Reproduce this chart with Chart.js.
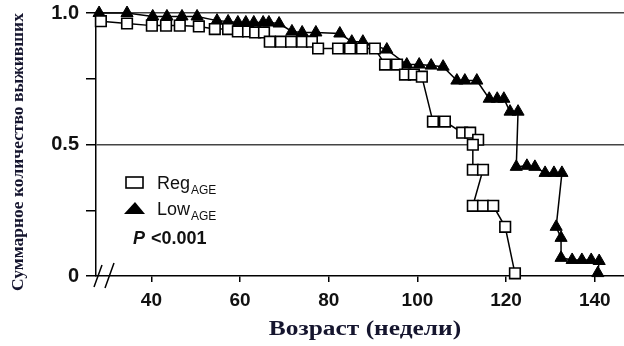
<!DOCTYPE html>
<html>
<head>
<meta charset="utf-8">
<script src="https://cdn.jsdelivr.net/npm/chart.js@4.4.1/dist/chart.umd.min.js"></script>
<style>
  html, body { margin: 0; padding: 0; background: #fff; overflow: hidden; }
  #survChart { display: block; }
</style>
</head>
<body>
<canvas id="survChart" width="624" height="346"></canvas>
<script>
// Survival data (weeks, cumulative survival)
const regWeeks = [28.6, 34.5, 40.1, 43.3, 46.4, 50.7, 54.3, 57.3, 59.5, 61.8, 63.4, 65.4,
  66.7, 69.2, 71.5, 74.0, 76.2, 77.6, 82.1, 84.8, 87.5, 90.4, 92.7, 95.4, 97.2, 99.2,
  101.0, 103.5, 106.2, 110.1, 111.9, 113.7, 112.5, 112.5, 114.8, 112.5, 114.8, 117.1,
  119.8, 122.0];
const regSurv = [0.969, 0.960, 0.952, 0.952, 0.952, 0.949, 0.939, 0.939, 0.930, 0.930, 0.926, 0.926,
  0.891, 0.891, 0.891, 0.891, 0.891, 0.865, 0.865, 0.865, 0.865, 0.865, 0.804, 0.804, 0.766, 0.766,
  0.758, 0.587, 0.587, 0.545, 0.545, 0.518, 0.499, 0.404, 0.404, 0.267, 0.267, 0.267,
  0.187, 0.01];

const lowWeeks = [28.2, 34.5, 40.3, 43.5, 46.9, 50.3, 54.8, 57.3, 59.5, 61.3, 63.1, 65.2, 66.5,
  68.8, 71.7, 74.0, 77.1, 82.5, 85.2, 87.7, 93.1, 97.6, 100.4, 103.1, 105.8, 108.9, 110.7,
  113.4, 116.2, 118.0, 119.5, 120.9, 122.7, 122.3, 124.7, 126.5, 128.8, 130.8, 132.6, 131.3,
  132.4, 132.4, 134.9, 137.1, 139.2, 141.0, 140.7];
const lowSurv = [1.0, 1.0, 0.987, 0.987, 0.987, 0.987, 0.971, 0.968, 0.964, 0.964, 0.964, 0.964, 0.964,
  0.960, 0.930, 0.926, 0.926, 0.922, 0.891, 0.891, 0.861, 0.804, 0.804, 0.800, 0.796, 0.743, 0.743,
  0.743, 0.674, 0.674, 0.674, 0.625, 0.625, 0.415, 0.419, 0.415, 0.392, 0.392, 0.392, 0.187,
  0.145, 0.069, 0.061, 0.061, 0.061, 0.057, 0.011];

const seriesNames = ['Reg', 'Low'];
const seriesSub = 'AGE';
const pValueText = '<0.001';

const xTicks = [40, 60, 80, 100, 120, 140];
const yTicks = [0, 0.25, 0.5, 0.75, 1.0];
const yTickLabels = { 0: '0', 0.5: '0.5', 1: '1.0' };

const xTitle = 'Возраст (недели)';
const yTitle = 'Суммарное количество выживших';

const titleColor = '#15152e';
const sansFont = "'Liberation Sans', Arial, sans-serif";
const serifFont = "'Liberation Serif', 'Times New Roman', serif";

function toPoints(xs, ys) {
  return xs.map((x, i) => ({ x: x, y: ys[i] }));
}

// Legend with subscripts, p-value, axis titles and the axis break
const legendPlugin = {
  id: 'ageLegend',
  afterDraw(chart) {
    const ctx = chart.ctx;
    const area = chart.chartArea;
    const left = area.left;
    ctx.save();
    ctx.lineWidth = 1.6;
    ctx.strokeStyle = '#000';

    // square
    ctx.fillStyle = '#fff';
    ctx.fillRect(left + 30, 177, 17, 11);
    ctx.strokeRect(left + 30, 177, 17, 11);
    // triangle
    ctx.fillStyle = '#000';
    ctx.beginPath();
    ctx.moveTo(left + 39, 202);
    ctx.lineTo(left + 49, 214);
    ctx.lineTo(left + 28, 214);
    ctx.closePath();
    ctx.fill();

    ctx.fillStyle = '#111';
    ctx.textBaseline = 'alphabetic';
    seriesNames.forEach((name, i) => {
      const y = 189 + i * 26;
      ctx.font = '18px ' + sansFont;
      ctx.fillText(name, left + 61, y);
      const w = ctx.measureText(name).width;
      ctx.font = '12px ' + sansFont;
      ctx.fillText(seriesSub, left + 61 + w + 1, y + 5);
    });

    ctx.font = 'italic bold 18px ' + sansFont;
    ctx.fillText('P', left + 37, 244);
    const pw = ctx.measureText('P ').width;
    ctx.font = 'bold 18px ' + sansFont;
    ctx.fillText(pValueText, left + 37 + pw + 1, 244);

    // axis break marks
    const y0 = chart.scales.y.getPixelForValue(0);
    ctx.lineWidth = 1.5;
    ctx.beginPath();
    ctx.moveTo(left - 2, y0 + 11);
    ctx.lineTo(left + 6, y0 - 11);
    ctx.moveTo(left + 9, y0 + 12);
    ctx.lineTo(left + 18, y0 - 13);
    ctx.stroke();

    // axis titles (the source figure is stretched sideways)
    ctx.fillStyle = titleColor;
    ctx.textAlign = 'center';
    ctx.textBaseline = 'middle';
    ctx.font = 'bold 20px ' + serifFont;
    ctx.save();
    ctx.translate(365, 330);
    ctx.scale(1.27, 1);
    ctx.fillText(xTitle, 0, 0);
    ctx.restore();

    ctx.font = 'bold 17.5px ' + serifFont;
    ctx.save();
    ctx.translate(18, 152);
    ctx.rotate(-Math.PI / 2);
    ctx.fillText(yTitle, 0, 0);
    ctx.restore();
    ctx.restore();
  }
};

const ctx = document.getElementById('survChart').getContext('2d');
new Chart(ctx, {
  type: 'line',
  data: {
    datasets: [{
      label: seriesNames[0],
      data: toPoints(regWeeks, regSurv),
      borderColor: '#000',
      borderWidth: 1.5,
      pointStyle: 'rect',
      pointRadius: 7.5,
      pointBorderWidth: 1.6,
      pointBackgroundColor: '#fff',
      pointBorderColor: '#000',
      tension: 0,
      clip: false
    }, {
      label: seriesNames[1],
      data: toPoints(lowWeeks, lowSurv),
      borderColor: '#000',
      borderWidth: 1.5,
      pointStyle: 'triangle',
      pointRadius: 7,
      pointBorderWidth: 1,
      pointBackgroundColor: '#000',
      pointBorderColor: '#000',
      tension: 0,
      clip: false
    }]
  },
  options: {
    responsive: false,
    animation: false,
    layout: { autoPadding: false, padding: { top: 13, right: 0, left: 0, bottom: 0 } },
    plugins: {
      legend: { display: false },
      tooltip: { enabled: false }
    },
    scales: {
      x: {
        type: 'linear',
        min: 27.5,
        max: 146.6,
        afterBuildTicks: scale => { scale.ticks = xTicks.map(v => ({ value: v })); },
        afterFit: scale => {
          scale.height = 70;
          scale.paddingLeft = 0;
          scale.paddingRight = 0;
        },
        ticks: {
          color: '#111',
          padding: 7,
          font: { family: sansFont, weight: 'bold', size: 19 }
        },
        grid: {
          drawOnChartArea: false,
          tickLength: 6,
          tickColor: '#000',
          lineWidth: 1.5
        },
        border: { display: true, color: '#000', width: 1.5 }
      },
      y: {
        min: 0,
        max: 1,
        afterBuildTicks: scale => { scale.ticks = yTicks.map(v => ({ value: v })); },
        afterFit: scale => {
          scale.width = 96;
          scale.paddingTop = 0;
          scale.paddingBottom = 0;
        },
        ticks: {
          color: '#111',
          padding: 7,
          font: { family: sansFont, weight: 'bold', size: 20 },
          callback: v => (yTickLabels[v] !== undefined ? yTickLabels[v] : '')
        },
        grid: {
          color: c => (c.tick && (c.tick.value === 0.5 || c.tick.value === 1) ? '#444' : 'rgba(0,0,0,0)'),
          lineWidth: 1.5,
          tickLength: 10,
          tickColor: '#000'
        },
        border: { display: true, color: '#000', width: 1.5 }
      }
    }
  },
  plugins: [legendPlugin]
});
</script>
</body>
</html>
